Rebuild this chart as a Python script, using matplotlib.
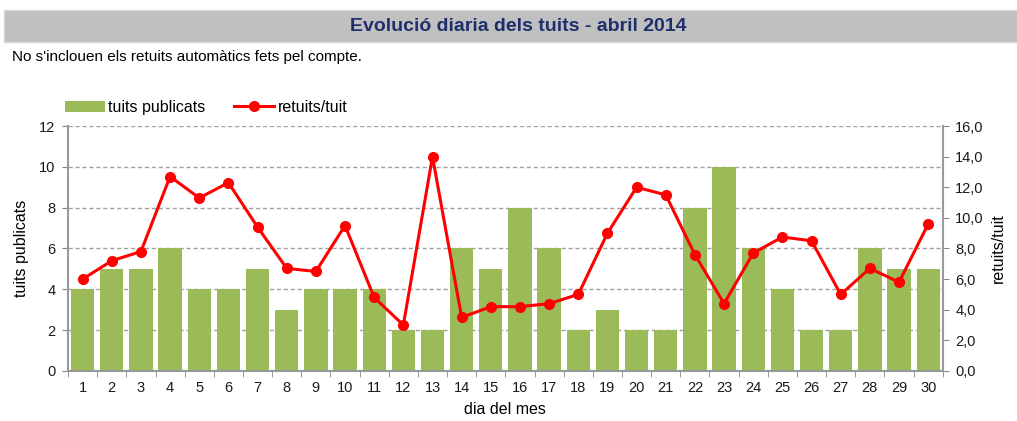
import numpy as np
import matplotlib.pyplot as plt
from matplotlib.patches import Rectangle

plt.rcParams['font.family'] = ['Liberation Sans', 'DejaVu Sans']

dies = np.arange(1, 31)
tuits = [4, 5, 5, 6, 4, 4, 5, 3, 4, 4, 4, 2, 2, 6, 5, 8, 6, 2, 3, 2, 2, 8, 10, 6, 4, 2, 2, 6, 5, 5]
retuits = [6.0, 7.2, 7.8, 12.7, 11.3, 12.3, 9.4, 6.7, 6.5, 9.5, 4.8, 3.0, 14.0, 3.5, 4.2,
           4.2, 4.4, 5.0, 9.0, 12.0, 11.5, 7.6, 4.4, 7.7, 8.75, 8.5, 5.0, 6.7, 5.8, 9.6]

fig = plt.figure(figsize=(10.17, 4.21), dpi=100)

# title band
fig.patches.append(Rectangle((0.004, 0.9), 0.996, 0.077, transform=fig.transFigure,
                             facecolor='#c0c0c0', edgecolor='#d8d8d8', zorder=0))
fig.text(0.51, 0.938, "Evolució diaria dels tuits - abril 2014", ha='center', va='center',
         fontsize=14, fontweight='bold', color='#1f2f6b')
fig.text(0.012, 0.865, "No s'inclouen els retuits automàtics fets pel compte.", ha='left',
         va='center', fontsize=11)

ax = fig.add_axes([0.0669, 0.1188, 0.8601, 0.5819])
ax.bar(dies, tuits, width=0.8, color='#9bbb59', label='tuits publicats', zorder=2)
ax.set_xlim(0.5, 30.5)
ax.set_ylim(0, 12)
ax.set_yticks(range(0, 13, 2))
ax.set_xticks(dies)
ax.set_xticks(np.arange(0.5, 31, 1), minor=True)
ax.tick_params(axis='x', which='major', length=0, pad=7)
ax.tick_params(axis='x', which='minor', length=4, color='#888888')
ax.tick_params(axis='y', length=4, color='#888888', pad=5)
ax.tick_params(labelsize=10.5, labelcolor='#1a1a1a')
ax.grid(axis='y', linestyle=(0, (3, 2)), color='#a0a0a0', linewidth=1, zorder=1)
ax.set_axisbelow(True)
for s in ['left', 'bottom']:
    ax.spines[s].set_color('#999999')
    ax.spines[s].set_linewidth(1.5)
ax.spines['top'].set_visible(False)
ax.spines['right'].set_visible(False)
ax.set_xlabel('dia del mes', fontsize=11.5, labelpad=5)
ax.set_ylabel('tuits publicats', fontsize=11.5, labelpad=7)

ax2 = ax.twinx()
ax2.plot(dies, retuits, color='#ff0000', marker='o', markersize=7, linewidth=2.2,
         label='retuits/tuit', zorder=3)
ax2.set_ylim(0, 16)
ax2.set_yticks(np.arange(0, 17, 2))
ax2.set_yticklabels([f"{v:.1f}".replace('.', ',') for v in np.arange(0, 17, 2)])
ax2.tick_params(axis='y', length=4, color='#888888', labelsize=10.5, labelcolor='#1a1a1a', pad=5)
ax2.spines['right'].set_color('#999999')
ax2.spines['right'].set_linewidth(1.5)
for s in ['left', 'bottom', 'top']:
    ax2.spines[s].set_visible(False)
ax2.set_ylabel('retuits/tuit', fontsize=11.5, labelpad=5)

h1, l1 = ax.get_legend_handles_labels()
h2, l2 = ax2.get_legend_handles_labels()
fig.legend(h1 + h2, l1 + l2, loc='center left', bbox_to_anchor=(0.05, 0.745), ncol=2,
           frameon=False, fontsize=11.5, handlelength=2.5, handletextpad=0.2, columnspacing=1.8)

fig.savefig('out.png', dpi=100)
